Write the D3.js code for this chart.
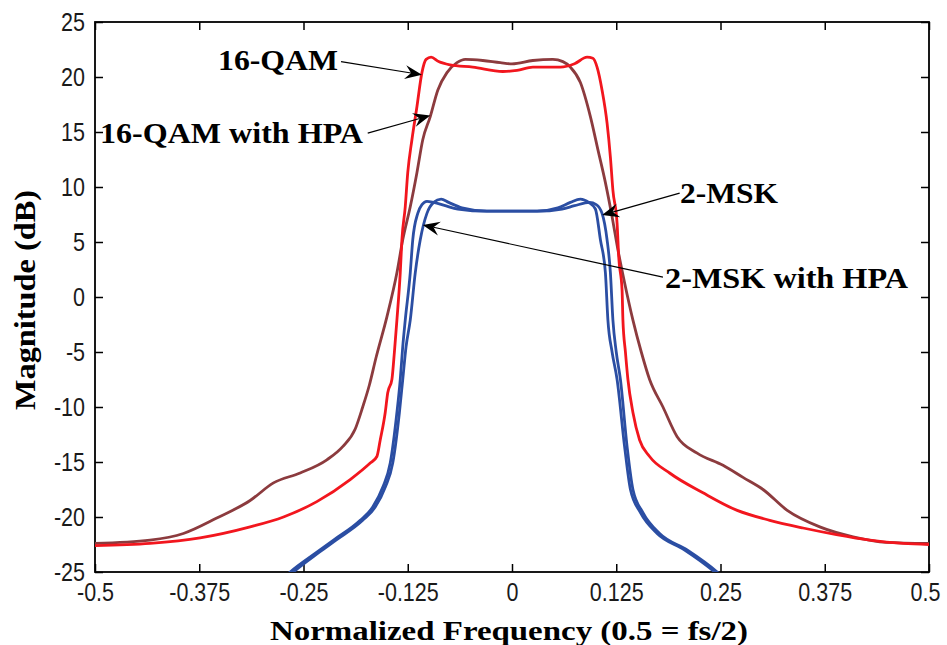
<!DOCTYPE html>
<html>
<head>
<meta charset="utf-8">
<script src="https://cdn.jsdelivr.net/npm/d3@7"></script>
<style>
  html, body { margin: 0; padding: 0; background: #fff; }
  svg { display: block; }
</style>
</head>
<body>
<svg id="chart" width="947" height="645"></svg>
<script>
// ---------------- DATA ----------------
const xTicks = [-0.5, -0.375, -0.25, -0.125, 0, 0.125, 0.25, 0.375, 0.5];
const xTickLabels = ["-0.5", "-0.375", "-0.25", "-0.125", "0", "0.125", "0.25", "0.375", "0.5"];
const yTicks = [-25, -20, -15, -10, -5, 0, 5, 10, 15, 20, 25];
const yTickLabels = ["-25", "-20", "-15", "-10", "-5", "0", "5", "10", "15", "20", "25"];

// 16-QAM (red)
const qamFreq = [-0.5, -0.434, -0.374, -0.314, -0.274, -0.234, -0.194, -0.170, -0.162, -0.158, -0.152, -0.149, -0.144, -0.141, -0.138, -0.134, -0.132, -0.128, -0.125, -0.120, -0.114, -0.108, -0.103, -0.097, -0.088, -0.074, -0.047, -0.011, 0.006, 0.025, 0.058, 0.075, 0.090, 0.097, 0.102, 0.108, 0.114, 0.118, 0.121, 0.126, 0.128, 0.132, 0.133, 0.136, 0.139, 0.145, 0.153, 0.165, 0.189, 0.229, 0.270, 0.309, 0.349, 0.389, 0.429, 0.469, 0.5];
const qamMag  = [-22.6, -22.4, -21.9, -20.9, -20.0, -18.6, -16.6, -15.1, -14.5, -13.0, -10.5, -8.7, -7.5, -5.0, -2.1, 2.2, 5.2, 8.2, 11.3, 14.3, 17.3, 20.4, 21.6, 21.8, 21.4, 21.1, 20.9, 20.5, 20.6, 20.9, 20.9, 21.2, 21.8, 21.7, 20.9, 18.8, 15.8, 12.7, 9.7, 6.7, 3.6, 0.6, -2.1, -5.0, -7.5, -10.5, -13.0, -14.5, -16.0, -17.8, -19.4, -20.3, -21.0, -21.6, -22.1, -22.4, -22.5];

// 16-QAM with HPA (brown)
const qamHpaFreq = [-0.5, -0.434, -0.394, -0.354, -0.314, -0.286, -0.254, -0.222, -0.203, -0.188, -0.179, -0.171, -0.163, -0.150, -0.138, -0.131, -0.122, -0.114, -0.107, -0.098, -0.089, -0.078, -0.066, -0.056, -0.035, -0.014, 0.0, 0.025, 0.049, 0.061, 0.070, 0.082, 0.094, 0.103, 0.112, 0.120, 0.127, 0.135, 0.145, 0.155, 0.165, 0.181, 0.198, 0.222, 0.253, 0.277, 0.301, 0.330, 0.369, 0.409, 0.449, 0.5];
const qamHpaMag  = [-22.4, -22.1, -21.5, -20.1, -18.5, -16.9, -16.0, -14.8, -13.6, -12.0, -10.0, -8.0, -5.5, -1.8, 2.2, 5.2, 8.2, 11.3, 14.3, 16.4, 18.8, 20.4, 21.3, 21.6, 21.5, 21.3, 21.2, 21.5, 21.6, 21.4, 20.9, 19.5, 16.4, 13.4, 10.4, 7.3, 4.3, 1.3, -2.1, -5.0, -7.5, -10.0, -12.7, -14.2, -15.3, -16.4, -17.5, -19.4, -20.9, -21.8, -22.3, -22.4];

// 2-MSK (blue, outer)
const mskFreq = [-0.272, -0.266, -0.234, -0.214, -0.182, -0.167, -0.155, -0.146, -0.138, -0.134, -0.131, -0.128, -0.122, -0.119, -0.113, -0.108, -0.102, -0.094, -0.080, -0.065, -0.030, 0.0, 0.030, 0.060, 0.075, 0.093, 0.101, 0.108, 0.114, 0.118, 0.121, 0.125, 0.130, 0.138, 0.145, 0.157, 0.177, 0.210, 0.246, 0.252];
const mskMag  = [-25.4, -25.0, -23.2, -22.1, -20.3, -19.1, -17.3, -15.1, -10.5, -7.5, -4.5, -2.1, 2.2, 5.2, 7.6, 8.4, 8.7, 8.6, 8.3, 8.0, 7.8, 7.8, 7.8, 8.0, 8.3, 8.6, 8.4, 7.6, 5.2, 2.2, -2.1, -5.0, -7.5, -13.6, -17.5, -19.6, -21.5, -23.0, -25.0, -25.4];

// 2-MSK with HPA (blue, inner)
const mskHpaFreq = [-0.268, -0.262, -0.231, -0.211, -0.179, -0.164, -0.152, -0.143, -0.135, -0.131, -0.127, -0.122, -0.116, -0.110, -0.102, -0.094, -0.085, -0.076, -0.060, -0.030, 0.0, 0.030, 0.055, 0.070, 0.082, 0.092, 0.100, 0.106, 0.112, 0.115, 0.120, 0.126, 0.135, 0.142, 0.154, 0.174, 0.207, 0.243, 0.249];
const mskHpaMag  = [-25.4, -25.0, -23.2, -22.1, -20.3, -19.1, -17.3, -15.1, -10.5, -7.5, -4.5, -2.1, 2.2, 5.2, 7.6, 8.6, 8.9, 8.6, 8.1, 7.8, 7.8, 7.8, 8.1, 8.6, 8.9, 8.6, 8.0, 5.2, 2.2, -2.1, -5.0, -7.5, -13.6, -17.5, -19.6, -21.5, -23.0, -25.0, -25.4];

// Annotation texts (anchor in data units) and arrows (tail -> head, data units)
const annoTexts  = ["16-QAM", "16-QAM with HPA", "2-MSK", "2-MSK with HPA"];
const annoFreq   = [-0.3525, -0.494, 0.2014, 0.1835];
const annoMag    = [20.64, 14.0, 8.55, 0.82];
const annoWidth  = [120, 263, 98, 243];
const arrowTailF = [-0.205, -0.173, 0.201, 0.181];
const arrowTailM = [21.4, 14.9, 9.45, 1.8];
const arrowHeadF = [-0.108, -0.098, 0.108, -0.107];
const arrowHeadM = [20.2, 16.5, 7.45, 6.55];

// ---------------- CHART ----------------
const svg = d3.select("#chart");
const margin = {left: 95, top: 22, right: 18, bottom: 73};
const W = 947, H = 645;
const x = d3.scaleLinear().domain([-0.5, 0.5]).range([margin.left, W - margin.right]);
const y = d3.scaleLinear().domain([-25, 25]).range([H - margin.bottom, margin.top]);

svg.append("defs").append("clipPath").attr("id", "plotclip")
  .append("rect").attr("x", x(-0.5)).attr("y", y(25))
  .attr("width", x(0.5) - x(-0.5)).attr("height", y(-25) - y(25));

const tickFont = "'Liberation Sans', Arial, sans-serif";
const serif = "'Liberation Serif', 'Times New Roman', serif";

// Axes (ticks pointing inward)
const gx = svg.append("g").attr("transform", `translate(0,${y(-25)})`)
  .call(d3.axisBottom(x).tickValues(xTicks).tickFormat((d, i) => xTickLabels[i]).tickSizeInner(-8).tickSizeOuter(0).tickPadding(11));
const gxt = svg.append("g").attr("transform", `translate(0,${y(25)})`)
  .call(d3.axisTop(x).tickValues(xTicks).tickFormat("").tickSizeInner(-8).tickSizeOuter(0));
const gy = svg.append("g").attr("transform", `translate(${x(-0.5)},0)`)
  .call(d3.axisLeft(y).tickValues(yTicks).tickFormat((d, i) => yTickLabels[i]).tickSizeInner(-8).tickSizeOuter(0).tickPadding(10));
const gyr = svg.append("g").attr("transform", `translate(${x(0.5)},0)`)
  .call(d3.axisRight(y).tickValues(yTicks).tickFormat("").tickSizeInner(-8).tickSizeOuter(0));

[gx, gxt, gy, gyr].forEach(g => {
  g.select(".domain").remove();
  g.selectAll(".tick line").attr("stroke", "#000").attr("stroke-width", 1.5);
  g.selectAll("text").attr("font-family", tickFont).attr("font-size", 25).attr("fill", "#1a1a1a");
});
gx.selectAll(".tick text").attr("dy", "0.71em");
// keep the last x label inside the canvas, as in the reference
gx.selectAll(".tick text").filter(d => d === 0.5).attr("dx", -4);

// compress tick labels horizontally a bit
[gx, gy].forEach(g => {
  g.selectAll(".tick text").each(function() {
    const len = this.getComputedTextLength();
    d3.select(this).attr("textLength", len * 0.86).attr("lengthAdjust", "spacingAndGlyphs");
  });
});

// Frame
svg.append("rect").attr("x", x(-0.5)).attr("y", y(25))
  .attr("width", x(0.5) - x(-0.5)).attr("height", y(-25) - y(25))
  .attr("fill", "none").attr("stroke", "#000").attr("stroke-width", 1.8);

// Curves
const line = d3.line().x(d => x(d[0])).y(d => y(d[1])).curve(d3.curveMonotoneX);
const series = [
  {f: qamHpaFreq, m: qamHpaMag, color: "#8c3b3e"},
  {f: qamFreq, m: qamMag, color: "#f2161e"},
  {f: mskFreq, m: mskMag, color: "#2b4ea3"},
  {f: mskHpaFreq, m: mskHpaMag, color: "#2b4ea3"}
];
const plot = svg.append("g").attr("clip-path", "url(#plotclip)");
series.forEach(s => {
  plot.append("path")
    .datum(s.f.map((f, i) => [f, s.m[i]]))
    .attr("d", line)
    .attr("fill", "none")
    .attr("stroke", s.color)
    .attr("stroke-width", 2.8)
    .attr("stroke-linejoin", "round");
});

// Arrows
const ag = svg.append("g");
arrowTailF.forEach((tf, i) => {
  const x0 = x(tf), y0 = y(arrowTailM[i]);
  const x1 = x(arrowHeadF[i]), y1 = y(arrowHeadM[i]);
  const ang = Math.atan2(y1 - y0, x1 - x0);
  const L = 17, Wd = 7, notch = 11;
  const ux = Math.cos(ang), uy = Math.sin(ang), px = -uy, py = ux;
  const bx = x1 - ux * L, by = y1 - uy * L;
  const nx = x1 - ux * notch, ny = y1 - uy * notch;
  ag.append("line").attr("x1", x0).attr("y1", y0).attr("x2", nx).attr("y2", ny)
    .attr("stroke", "#000").attr("stroke-width", 1.2);
  ag.append("path")
    .attr("d", `M${x1},${y1} L${bx + px * Wd},${by + py * Wd} L${nx},${ny} L${bx - px * Wd},${by - py * Wd} Z`)
    .attr("fill", "#000");
});

// Annotation labels
annoTexts.forEach((t, i) => {
  svg.append("text")
    .attr("x", x(annoFreq[i])).attr("y", y(annoMag[i]))
    .attr("font-family", serif).attr("font-weight", "bold").attr("font-size", 30)
    .attr("textLength", annoWidth[i]).attr("lengthAdjust", "spacingAndGlyphs")
    .attr("fill", "#000")
    .text(t);
});

// Axis titles
svg.append("text")
  .attr("x", 509).attr("y", 640)
  .attr("text-anchor", "middle")
  .attr("font-family", serif).attr("font-weight", "bold").attr("font-size", 28)
  .attr("textLength", 478).attr("lengthAdjust", "spacingAndGlyphs")
  .text("Normalized Frequency (0.5 = fs/2)");

svg.append("text")
  .attr("transform", "translate(35,300) rotate(-90)")
  .attr("text-anchor", "middle")
  .attr("font-family", serif).attr("font-weight", "bold").attr("font-size", 30)
  .attr("textLength", 220).attr("lengthAdjust", "spacingAndGlyphs")
  .text("Magnitude (dB)");
</script>
</body>
</html>
